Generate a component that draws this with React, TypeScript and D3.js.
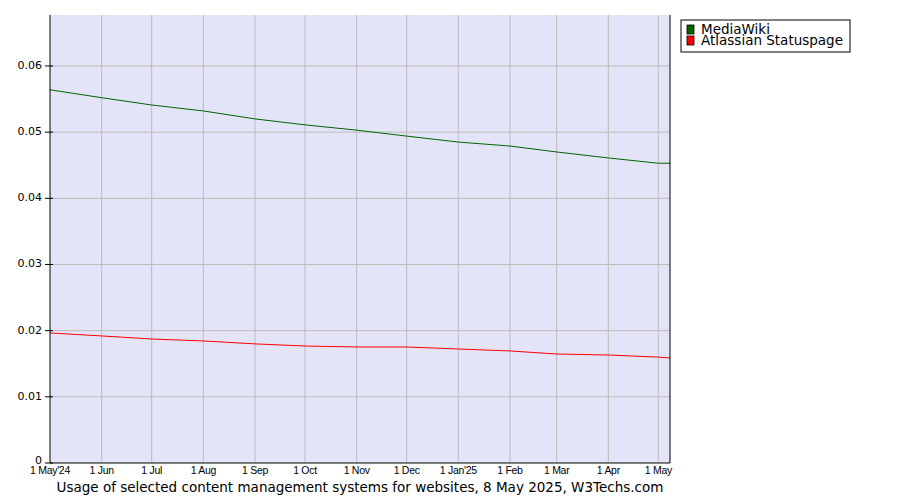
import * as d3 from 'd3';

const dates = [
  '2024-05-01', '2024-06-01', '2024-07-01', '2024-08-01', '2024-09-01', '2024-10-01',
  '2024-11-01', '2024-12-01', '2025-01-01', '2025-02-01', '2025-03-01', '2025-04-01',
  '2025-05-01', '2025-05-08',
];
const mediaWiki = [
  0.0564, 0.0552, 0.0541, 0.0532, 0.0520, 0.0511, 0.0503, 0.0494, 0.0485, 0.0479,
  0.0470, 0.0461, 0.0453, 0.0453,
];
const statuspage = [
  0.01965, 0.0192, 0.01874, 0.01844, 0.0180, 0.01768, 0.01753, 0.01753, 0.01723,
  0.01693, 0.01647, 0.01632, 0.0160, 0.01587,
];
const monthTicks = [
  '2024-05-01', '2024-06-01', '2024-07-01', '2024-08-01', '2024-09-01', '2024-10-01',
  '2024-11-01', '2024-12-01', '2025-01-01', '2025-02-01', '2025-03-01', '2025-04-01',
  '2025-05-01',
];
const monthLabels = [
  "1 May'24", '1 Jun', '1 Jul', '1 Aug', '1 Sep', '1 Oct', '1 Nov', '1 Dec',
  "1 Jan'25", '1 Feb', '1 Mar', '1 Apr', '1 May',
];
const yTicks = [0, 0.01, 0.02, 0.03, 0.04, 0.05, 0.06];
const series = [
  { name: 'MediaWiki', values: mediaWiki, color: '#006400' },
  { name: 'Atlassian Statuspage', values: statuspage, color: '#ff0000' },
];

const LEFT = 50;
const RIGHT = 670;
const TOP = 15;
const BOTTOM = 463;

const parse = d3.utcParse('%Y-%m-%d');

export default function App() {
  const x = d3
    .scaleUtc()
    .domain([parse('2024-05-01')!, parse('2025-05-08')!])
    .range([LEFT, RIGHT]);
  const y = d3.scaleLinear().domain([0, 0.0677]).range([BOTTOM, TOP]);

  const line = d3
    .line<[Date, number]>()
    .x((d) => x(d[0]))
    .y((d) => y(d[1]));

  return (
    <svg
      width={900}
      height={500}
      style={{ position: 'absolute', left: 0, top: 0, background: '#fff' }}
    >
      <rect x={LEFT} y={TOP} width={RIGHT - LEFT} height={BOTTOM - TOP} fill="#e4e4f8" />
      {/* grid */}
      {yTicks.slice(1).map((t) => (
        <line key={'gy' + t} x1={LEFT} x2={RIGHT} y1={y(t)} y2={y(t)} stroke="#bbb" />
      ))}
      {monthTicks.slice(1).map((t) => (
        <line
          key={'gx' + t}
          x1={x(parse(t)!)}
          x2={x(parse(t)!)}
          y1={TOP}
          y2={BOTTOM}
          stroke="#bbb"
        />
      ))}
      {/* lines */}
      {series.map((s) => (
        <path
          key={s.name}
          d={line(dates.map((d, i) => [parse(d)!, s.values[i]])) || ''}
          fill="none"
          stroke={s.color}
          strokeWidth={1}
        />
      ))}
      {/* axes */}
      <line x1={LEFT} x2={LEFT} y1={TOP} y2={BOTTOM} stroke="#000" />
      <line x1={RIGHT} x2={RIGHT} y1={TOP} y2={BOTTOM} stroke="#000" />
      <line x1={LEFT} x2={RIGHT} y1={BOTTOM} y2={BOTTOM} stroke="#000" />
      {yTicks.map((t) => (
        <g key={'yt' + t}>
          <line x1={LEFT - 5} x2={LEFT + 3} y1={y(t)} y2={y(t)} stroke="#000" />
          <text
            x={LEFT - 8}
            y={y(t) + (t === 0 ? 1 : 3)}
            textAnchor="end"
            fontFamily="DejaVu Sans"
            fontSize={11}
            fill="#000"
          >
            {t === 0 ? '0' : t.toFixed(2)}
          </text>
        </g>
      ))}
      {monthTicks.map((t, i) => (
        <text
          key={'xt' + t}
          x={x(parse(t)!)}
          y={BOTTOM + 11}
          textAnchor="middle"
          fontFamily="Liberation Sans"
          fontSize={10.5}
          letterSpacing={-0.3}
          fill="#000"
        >
          {monthLabels[i]}
        </text>
      ))}
      <text
        x={360}
        y={492}
        textAnchor="middle"
        fontFamily="DejaVu Sans"
        fontSize={13.5}
        fill="#000"
      >
        Usage of selected content management systems for websites, 8 May 2025, W3Techs.com
      </text>
      {/* legend */}
      <rect x={681} y={20} width={169} height={32} fill="#fff" stroke="#000" />
      {series.map((s, i) => (
        <g key={'lg' + s.name}>
          <rect x={687} y={25 + i * 11} width={7} height={9} fill={s.color} stroke="#000" strokeWidth={0.8} />
          <text
            x={701}
            y={34 + i * 11}
            fontFamily="DejaVu Sans"
            fontSize={13.5}
            fill="#000"
          >
            {s.name}
          </text>
        </g>
      ))}
    </svg>
  );
}
